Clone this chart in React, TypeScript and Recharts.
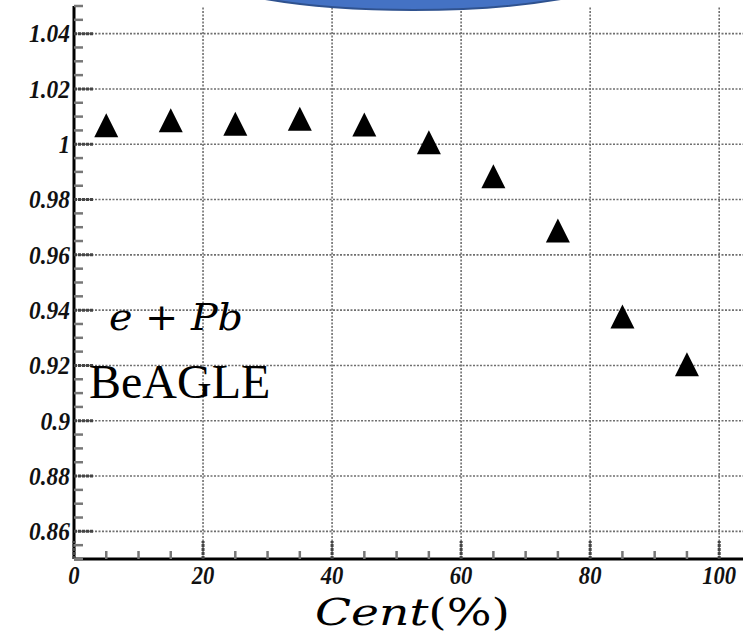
import React from "react";
import {
  ComposedChart,
  Scatter,
  XAxis,
  YAxis,
  ReferenceLine,
} from "recharts";

// centrality bins (%) and BeAGLE ratio values
const centrality = [5, 15, 25, 35, 45, 55, 65, 75, 85, 95];
const ratio = [1.0069, 1.0087, 1.0074, 1.0092, 1.0071, 1.0007, 0.9884, 0.9688, 0.9377, 0.9204];

const xTicks = Array.from({ length: 21 }, (_, i) => i * 5); // 0..100 every 5
const yTicks = Array.from({ length: 41 }, (_, i) => (850 + i * 5) / 1000); // 0.85..1.05 every 0.005
const xGrid = [20, 40, 60, 80, 100];
const yGrid = [0.86, 0.88, 0.9, 0.92, 0.94, 0.96, 0.98, 1, 1.02, 1.04];

const data = centrality.map((c, i) => ({ cent: c, ratio: ratio[i] }));

const tickFont: React.CSSProperties = {
  fontFamily: "'Liberation Serif', 'Times New Roman', serif",
  fontWeight: "bold",
  fontStyle: "italic",
  fontSize: 25,
  fill: "#111",
};

// the ROOT labels are a bit narrower than Liberation at this height
const labelWidth = (s: string) => s.replace(/\./g, "").length * 11.3 + (s.includes(".") ? 7 : 0);

const isMajorX = (v: number) => v % 20 === 0;
const isMajorY = (v: number) => Math.round(v * 1000) % 20 === 0;

const majorStyle = { stroke: "#444", strokeWidth: 3, strokeDasharray: "3 1" };
const minorStyle = { stroke: "#777", strokeWidth: 2.5 };

const BottomTick = (p: any) => {
  const { x, y, payload } = p;
  const major = isMajorX(payload.value);
  const s = String(payload.value);
  return (
    <g>
      <line x1={x} x2={x} y1={y} y2={y - (major ? 18 : 8)} {...(major ? majorStyle : minorStyle)} />
      {major && (
        <text x={x} y={y + 25} textAnchor="middle" style={tickFont} textLength={labelWidth(s)} lengthAdjust="spacingAndGlyphs">
          {s}
        </text>
      )}
    </g>
  );
};

const TopTick = (p: any) => {
  const { x, y, payload } = p;
  const major = isMajorX(payload.value);
  return <line x1={x} x2={x} y1={y} y2={y + (major ? 18 : 8)} {...(major ? majorStyle : minorStyle)} />;
};

const LeftTick = (p: any) => {
  const { x, y, payload } = p;
  const major = isMajorY(payload.value);
  const s = Number(payload.value.toFixed(2)).toString();
  return (
    <g>
      <line x1={x} x2={x + (major ? 20 : 9)} y1={y} y2={y} {...(major ? majorStyle : minorStyle)} />
      {major && (
        <text x={x - 4} y={y} dy="0.35em" textAnchor="end" style={tickFont} textLength={labelWidth(s)} lengthAdjust="spacingAndGlyphs">
          {s}
        </text>
      )}
    </g>
  );
};

const RightTick = (p: any) => {
  const { x, y, payload } = p;
  const major = isMajorY(payload.value);
  return <line x1={x} x2={x - (major ? 20 : 9)} y1={y} y2={y} {...(major ? majorStyle : minorStyle)} />;
};

const Triangle = (p: any) => {
  const { cx, cy } = p;
  const w = 24;
  const h = 24;
  return (
    <polygon
      points={`${cx},${cy - h / 2} ${cx - w / 2},${cy + h / 2} ${cx + w / 2},${cy + h / 2}`}
      fill="#000"
    />
  );
};

const gridLine = { stroke: "#6f6f6f", strokeWidth: 1.6, strokeDasharray: "2 1.5" };

export default function App() {
  return (
    <div style={{ position: "absolute", left: 0, top: 0, width: 743, height: 637, overflow: "hidden", background: "#fff" }}>
      <ComposedChart width={760} height={637} data={data} margin={{ top: 6, right: 15, bottom: 0, left: 0 }}>
        <XAxis
          dataKey="cent"
          type="number"
          domain={[0, 104]}
          ticks={xTicks}
          interval={0}
          allowDataOverflow
          height={78}
          tickSize={0}
          tickMargin={0}
          tickLine={false}
          tick={BottomTick}
          axisLine={{ stroke: "#000", strokeWidth: 3 }}
        />
        <XAxis
          xAxisId="top"
          orientation="top"
          dataKey="cent"
          type="number"
          domain={[0, 104]}
          ticks={xTicks}
          interval={0}
          allowDataOverflow
          height={0}
          tickSize={0}
          tickMargin={0}
          tickLine={false}
          tick={TopTick}
          axisLine={{ stroke: "#000", strokeWidth: 3 }}
        />
        <YAxis
          dataKey="ratio"
          type="number"
          domain={[0.85, 1.05]}
          ticks={yTicks}
          interval={0}
          allowDataOverflow
          width={74}
          tickSize={0}
          tickMargin={0}
          tickLine={false}
          tick={LeftTick}
          axisLine={{ stroke: "#000", strokeWidth: 3 }}
        />
        <YAxis
          yAxisId="right"
          orientation="right"
          dataKey="ratio"
          type="number"
          domain={[0.85, 1.05]}
          ticks={yTicks}
          interval={0}
          allowDataOverflow
          width={0}
          tickSize={0}
          tickMargin={0}
          tickLine={false}
          tick={RightTick}
          axisLine={{ stroke: "#000", strokeWidth: 3 }}
        />
        {xGrid.map((v) => (
          <ReferenceLine key={`gx${v}`} x={v} {...gridLine} />
        ))}
        {yGrid.map((v) => (
          <ReferenceLine key={`gy${v}`} y={v} {...gridLine} />
        ))}
        <Scatter data={data} xAxisId="top" yAxisId="right" shape={() => <g />} isAnimationActive={false} />
        <Scatter data={data} dataKey="ratio" shape={Triangle} isAnimationActive={false} />
      </ComposedChart>
      <svg width={743} height={637} style={{ position: "absolute", left: 0, top: 0, pointerEvents: "none" }}>
        <ellipse cx={413} cy={-50} rx={255} ry={60} fill="#4472C4" stroke="#2F528F" strokeWidth={2} />
        <text x={109} y={330} fontFamily="'DejaVu Serif', serif" fontSize={38} textLength={134} lengthAdjust="spacingAndGlyphs">
          <tspan fontStyle="italic">e</tspan>
          <tspan> + </tspan>
          <tspan fontStyle="italic">Pb</tspan>
        </text>
        <text x={89} y={398} fontFamily="'Liberation Serif', 'Times New Roman', serif" fontSize={48}>
          BeAGLE
        </text>
        <text x={315} y={625} fontFamily="'DejaVu Serif', serif" fontSize={37} textLength={195} lengthAdjust="spacingAndGlyphs">
          <tspan fontStyle="italic">Cent</tspan>
          <tspan>(%)</tspan>
        </text>
      </svg>
    </div>
  );
}
